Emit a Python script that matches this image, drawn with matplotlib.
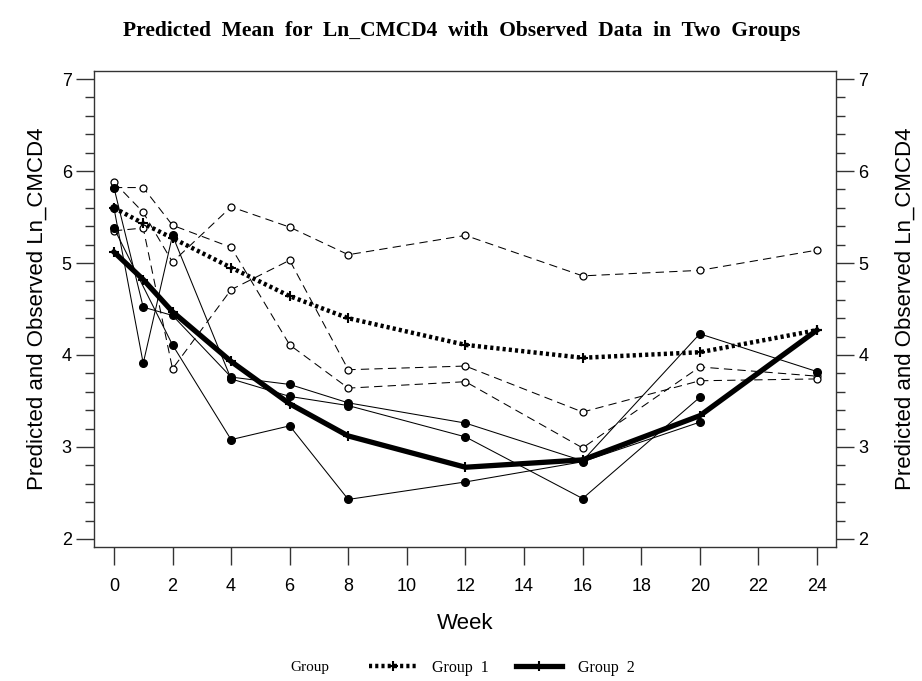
import numpy as np
import matplotlib
matplotlib.use("Agg")
import matplotlib.pyplot as plt
from matplotlib.lines import Line2D
from matplotlib.ticker import MultipleLocator

# ---------------- data ----------------
weeks = [0, 1, 2, 4, 6, 8, 12, 16, 20, 24]
week_ticks = list(range(0, 25, 2))
y_ticks = [2, 3, 4, 5, 6, 7]

# observed data, Group 1 (open circles, dashed)
g1_subj_a = [5.82, 5.82, 5.41, 5.17, 4.11, 3.64, 3.71, 2.99, 3.87, 3.77]
g1_subj_b = [5.88, 5.55, 5.01, 5.61, 5.39, 5.09, 5.30, 4.86, 4.92, 5.14]
g1_subj_c = [5.35, 5.38, 3.85, 4.71, 5.03, 3.84, 3.88, 3.38, 3.72, 3.74]

# observed data, Group 2 (filled circles, solid)
g2_subj_a = [5.38, None, 4.11, 3.08, 3.23, 2.43, 2.62, 2.84, 3.27, None]
g2_subj_b = [5.82, 4.52, 4.43, 3.76, 3.68, 3.48, 3.26, 2.85, 4.23, 3.82]
g2_subj_c = [5.60, 3.91, 5.30, 3.74, 3.55, 3.45, 3.11, 2.44, 3.54, None]

# predicted means
g1_mean = [5.60, 5.43, 5.27, 4.95, 4.64, 4.40, 4.11, 3.97, 4.03, 4.27]
g2_mean = [5.12, 4.82, 4.47, 3.93, 3.47, 3.12, 2.78, 2.86, 3.34, 4.27]

title = "Predicted Mean for Ln_CMCD4 with Observed Data in Two Groups"
ylabel = "Predicted and Observed Ln_CMCD4"
xlabel = "Week"
legend_title = "Group"
legend_labels = ["Group 1", "Group 2"]

# ---------------- figure ----------------
fig = plt.figure(figsize=(9.22, 6.81), dpi=100)
ax = fig.add_axes([94 / 922, 1 - 547 / 681, (836 - 94) / 922, (547 - 71) / 681])

def plot_subject(vals, style):
    xs = [w for w, v in zip(weeks, vals) if v is not None]
    ys = [v for v in vals if v is not None]
    ax.plot(xs, ys, **style)

g1_style = dict(color="black", lw=0.75, ls=(0, (8, 5)), marker="o", ms=5,
                mfc="white", mec="black", mew=0.9, zorder=2)
g2_style = dict(color="black", lw=0.75, ls="-", marker="o", ms=5.5,
                mfc="black", mec="black", zorder=2)

for s in (g1_subj_a, g1_subj_b, g1_subj_c):
    plot_subject(s, g1_style)
for s in (g2_subj_a, g2_subj_b, g2_subj_c):
    plot_subject(s, g2_style)

mean1_style = dict(color="black", lw=3.2, ls=(0, (0.7, 0.7)), marker="+", ms=7, mew=1.5)
mean2_style = dict(color="black", lw=3.8, ls="-", marker="+", ms=7, mew=1.5)
ax.plot(weeks, g1_mean, zorder=4, **mean1_style)
ax.plot(weeks, g2_mean, zorder=4, **mean2_style)

ax.set_xlim(-0.68, 24.65)
ax.set_ylim(1.913, 7.087)
ax.set_xticks(week_ticks)
ax.set_yticks(y_ticks)
ax.yaxis.set_minor_locator(MultipleLocator(0.2))

for sp in ax.spines.values():
    sp.set_linewidth(1.0)
    sp.set_color("#333333")

ax.tick_params(axis="x", which="major", direction="out", length=13, width=1.0,
               pad=9, labelsize=13, color="#333333")
ax.tick_params(axis="y", which="major", direction="out", length=13, width=1.0,
               pad=3, labelsize=13, color="#333333", right=True, labelright=True)
ax.tick_params(axis="y", which="minor", direction="out", length=6.5, width=1.0,
               color="#333333", right=True)

for lab in ax.get_xticklabels() + ax.get_yticklabels():
    lab.set_fontfamily("Liberation Sans")

ax.set_xlabel(xlabel, fontsize=16, fontfamily="Liberation Sans", labelpad=13)
ax.set_ylabel(ylabel, fontsize=16, fontfamily="Liberation Sans", labelpad=10)
fig.text(905 / 922, 1 - 309 / 681, ylabel, rotation=90, ha="center", va="center",
         fontsize=16, fontfamily="Liberation Sans")

fig.text(462 / 922, 1 - 31 / 681, "  ".join(title.split(" ")), ha="center", va="center",
         fontsize=15.5, fontweight="bold", fontfamily="Liberation Serif")

# legend
fig.text(310 / 922, 1 - 668 / 681, legend_title, ha="center", va="center",
         fontsize=11, fontfamily="Liberation Serif")
h1 = Line2D([], [], **mean1_style)
h2 = Line2D([], [], **mean2_style)
fig.legend([h1, h2], ["  ".join(l.split(" ")) for l in legend_labels], loc="center",
           bbox_to_anchor=(502 / 922, 1 - 668 / 681), ncol=2, frameon=False,
           prop={"family": "Liberation Serif", "size": 11.5},
           handlelength=2.9, handletextpad=1.0, columnspacing=1.7)

fig.savefig("out.png", dpi=100)
